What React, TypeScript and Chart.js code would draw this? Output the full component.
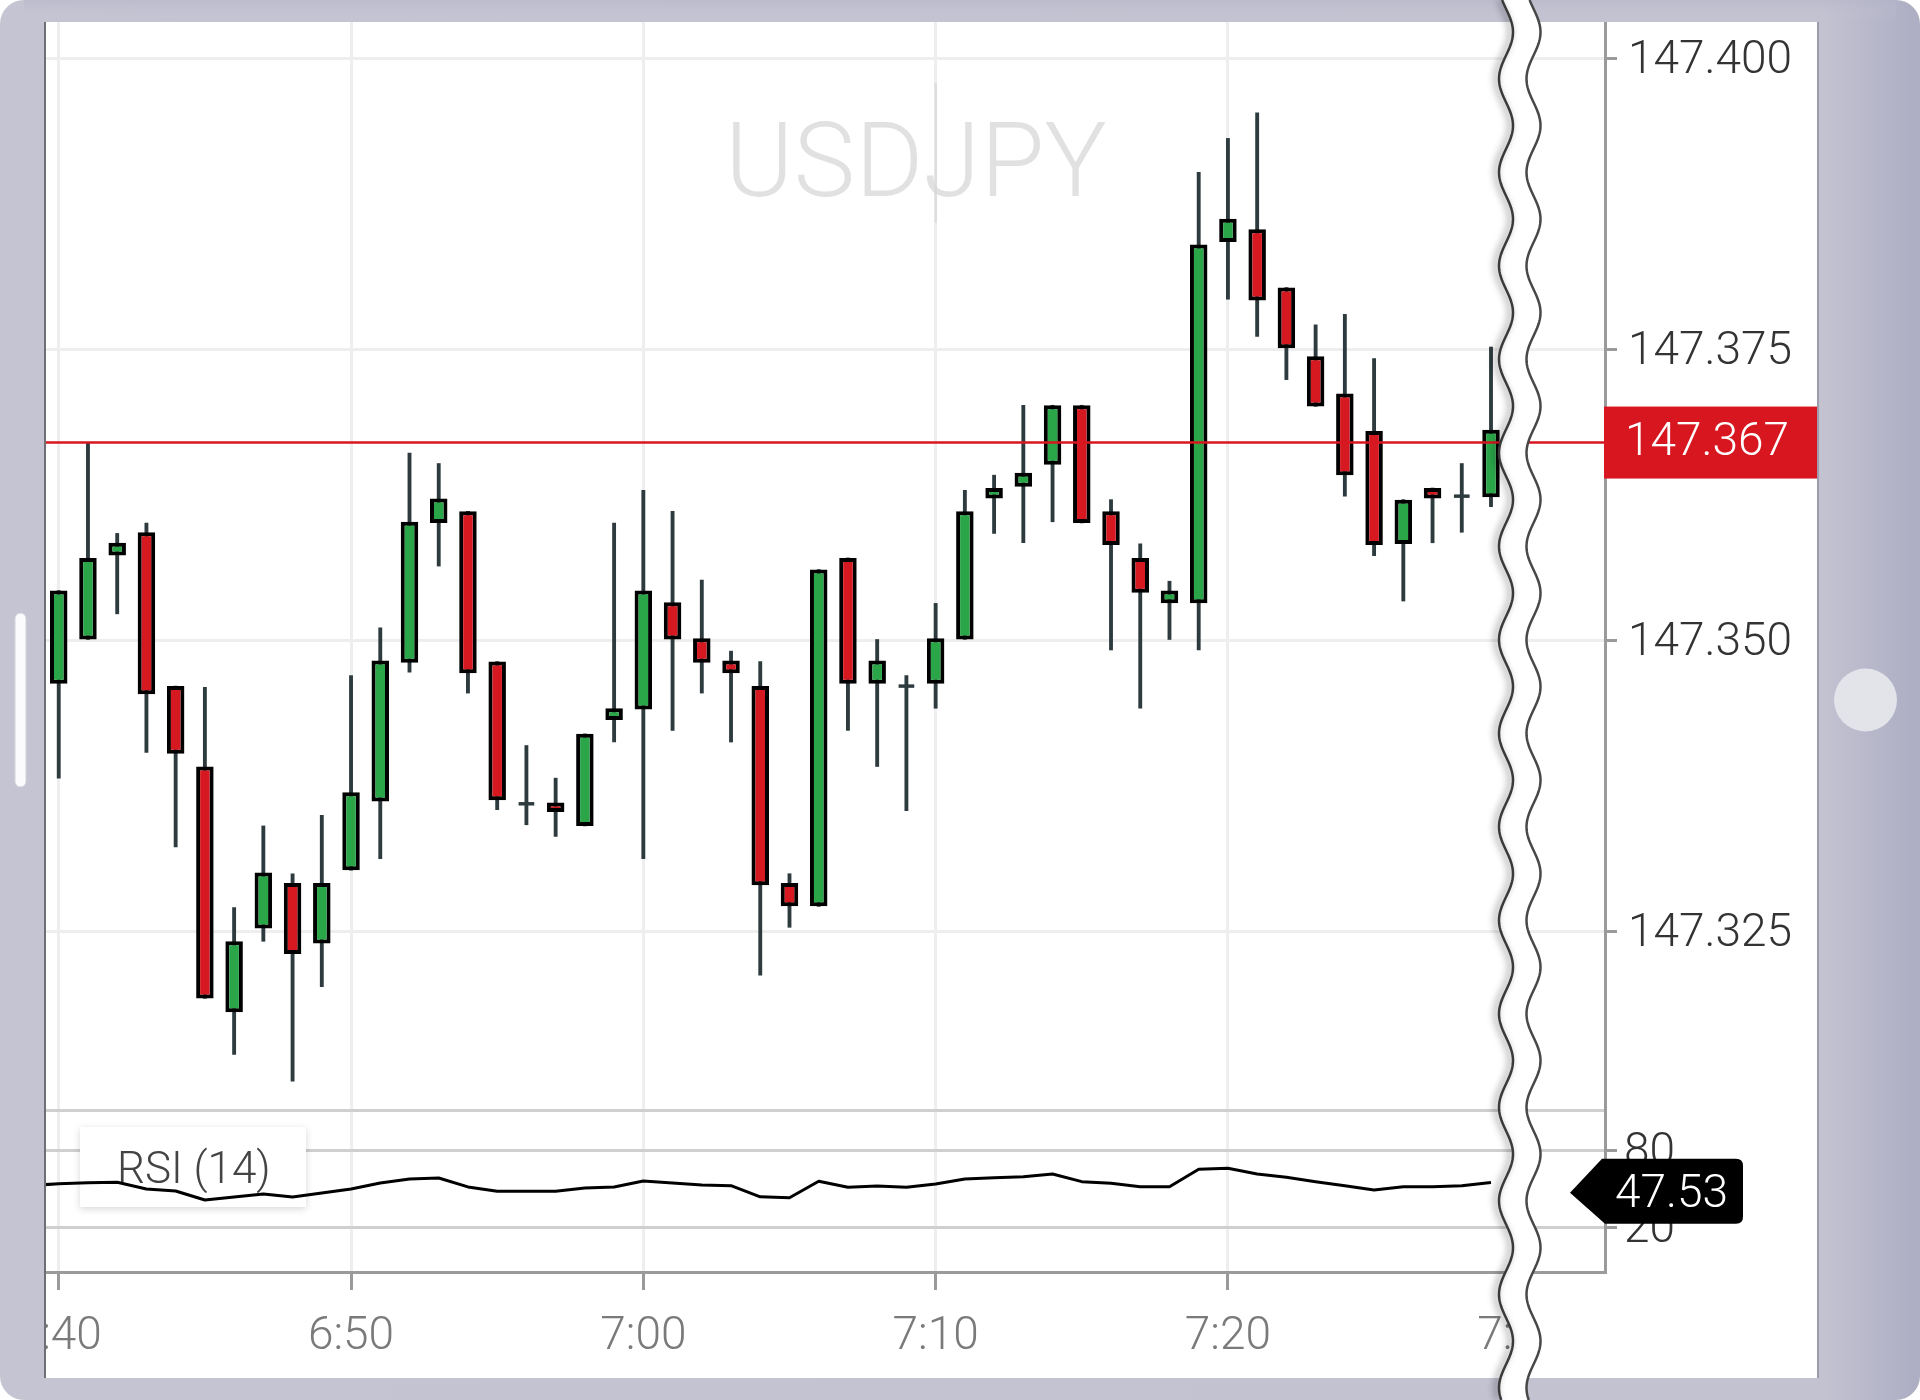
import React, { useEffect, useRef } from 'react';
import { Chart, registerables } from 'chart.js';

Chart.register(...registerables);

// ---------------- DATA ----------------
const SYMBOL = 'USDJPY';
const RSI_LABEL = 'RSI (14)';

const CANDLE_TIMES = [
  '6:40', '6:41', '6:42', '6:43', '6:44', '6:45', '6:46', '6:47', '6:48', '6:49',
  '6:50', '6:51', '6:52', '6:53', '6:54', '6:55', '6:56', '6:57', '6:58', '6:59',
  '7:00', '7:01', '7:02', '7:03', '7:04', '7:05', '7:06', '7:07', '7:08', '7:09',
  '7:10', '7:11', '7:12', '7:13', '7:14', '7:15', '7:16', '7:17', '7:18', '7:19',
  '7:20', '7:21', '7:22', '7:23', '7:24', '7:25', '7:26', '7:27', '7:28', '7:29',
];

const OPEN = [
  147.3463, 147.3501, 147.3573, 147.3593, 147.3461, 147.3392, 147.3181, 147.3253, 147.3292, 147.3240,
  147.3303, 147.3362, 147.3481, 147.3601, 147.3611, 147.3482, 147.3360, 147.3361, 147.3341, 147.3432,
  147.3441, 147.3533, 147.3502, 147.3483, 147.3461, 147.3292, 147.3272, 147.3571, 147.3463, 147.3461,
  147.3463, 147.3501, 147.3622, 147.3632, 147.3651, 147.3702, 147.3611, 147.3571, 147.3532, 147.3532,
  147.3842, 147.3853, 147.3803, 147.3744, 147.3712, 147.3680, 147.3583, 147.3631, 147.3624, 147.3623,
];

const HIGH = [
  147.3543, 147.3670, 147.3592, 147.3601, 147.3461, 147.3460, 147.3271, 147.3341, 147.3300, 147.3350,
  147.3470, 147.3511, 147.3661, 147.3652, 147.3611, 147.3482, 147.3410, 147.3382, 147.3420, 147.3601,
  147.3629, 147.3611, 147.3552, 147.3491, 147.3482, 147.3300, 147.3561, 147.3571, 147.3501, 147.3470,
  147.3532, 147.3629, 147.3642, 147.3702, 147.3702, 147.3702, 147.3621, 147.3583, 147.3551, 147.3902,
  147.3931, 147.3953, 147.3803, 147.3771, 147.3780, 147.3742, 147.3621, 147.3631, 147.3652, 147.3752,
];

const LOW = [
  147.3382, 147.3501, 147.3523, 147.3404, 147.3323, 147.3193, 147.3145, 147.3242, 147.3122, 147.3203,
  147.3303, 147.3313, 147.3473, 147.3564, 147.3455, 147.3355, 147.3342, 147.3332, 147.3341, 147.3413,
  147.3313, 147.3423, 147.3455, 147.3413, 147.3213, 147.3254, 147.3272, 147.3423, 147.3392, 147.3354,
  147.3442, 147.3501, 147.3592, 147.3584, 147.3602, 147.3601, 147.3492, 147.3442, 147.3501, 147.3492,
  147.3793, 147.3761, 147.3724, 147.3701, 147.3624, 147.3573, 147.3534, 147.3584, 147.3593, 147.3615,
];

const CLOSE = [
  147.3543, 147.3571, 147.3584, 147.3454, 147.3403, 147.3193, 147.3242, 147.3301, 147.3231, 147.3292,
  147.3370, 147.3483, 147.3602, 147.3622, 147.3472, 147.3363, 147.3360, 147.3353, 147.3420, 147.3442,
  147.3543, 147.3501, 147.3481, 147.3472, 147.3290, 147.3272, 147.3561, 147.3463, 147.3483, 147.3461,
  147.3502, 147.3611, 147.3631, 147.3644, 147.3702, 147.3601, 147.3582, 147.3541, 147.3543, 147.3840,
  147.3862, 147.3792, 147.3751, 147.3701, 147.3642, 147.3582, 147.3621, 147.3622, 147.3624, 147.3681,
];

const RSI_TIMES = ['6:39', ...CANDLE_TIMES];
const RSI = [
  53.0,
  54.5, 55.3, 55.6, 50.4, 48.8, 41.8, 44.2, 46.5, 44.2, 47.3,
  50.4, 55.1, 58.2, 59.0, 52.0, 48.6, 48.6, 48.6, 51.2, 52.0,
  56.6, 55.1, 53.5, 53.0, 44.3, 43.6, 56.4, 51.7, 52.7, 51.7,
  54.3, 58.2, 59.2, 60.0, 62.1, 56.1, 54.8, 52.2, 52.2, 65.8,
  66.5, 62.1, 59.5, 56.1, 53.0, 49.6, 52.2, 52.2, 53.0, 55.5,
];

const CURRENT_PRICE = 147.367;
const LAST_RSI = 47.53;

const PRICE_TICKS = [147.325, 147.35, 147.375, 147.4];
const RSI_TICKS = [20, 80];
const TIME_TICKS = ['6:40', '6:50', '7:00', '7:10', '7:20', '7:30'];

// ---------------- STYLE / LAYOUT ----------------
const FONT = 'Roboto, "Noto Sans", sans-serif';
const GREEN = '#2aa649';
const RED = '#d61821';
const WICK = '#2d3a3e';

const X_MIN = 399.53;
const X_MAX = 452.9;
const Y_MIN = 147.29582;
const Y_MAX = 147.40309;
const YR_MIN = -14.29;
const YR_MAX = 959.74;
const RSI_PANEL_TOP = 111.17;

const toMin = (s: string) => {
  const [h, m] = s.split(':').map(Number);
  return h * 60 + m;
};
const fmtMin = (v: number) => {
  const h = Math.floor(v / 60);
  const m = Math.round(v - h * 60);
  return `${h}:${String(m).padStart(2, '0')}`;
};

const wave = (y: number, cx: number) => cx + 7 * Math.sin((2 * Math.PI * (y - 8.75)) / 93.5);

const overlayPlugin: any = {
  id: 'overlay',
  beforeDraw(chart: any) {
    const c = chart.ctx;
    c.save();
    c.fillStyle = '#ffffff';
    c.fillRect(0, 0, chart.width, chart.height);
    c.restore();
  },
  beforeDatasetsDraw(chart: any) {
    const c = chart.ctx;
    c.save();
    // darker segment of the 7:10 grid line behind the watermark
    c.fillStyle = '#dedede';
    c.fillRect(934.5, 83, 2.5, 140);
    // watermark
    c.font = `300 104px ${FONT}`;
    c.fillStyle = 'rgba(215,215,215,0.75)';
    c.textAlign = 'center';
    c.textBaseline = 'alphabetic';
    c.fillText(SYMBOL, 916, 196);
    // RSI label box
    c.shadowColor = 'rgba(0,0,0,0.16)';
    c.shadowBlur = 7;
    c.shadowOffsetY = 2;
    c.fillStyle = '#ffffff';
    c.fillRect(80, 1127, 226, 80);
    c.shadowColor = 'rgba(0,0,0,0)';
    c.font = `300 44px ${FONT}`;
    c.fillStyle = '#444444';
    c.textAlign = 'left';
    c.fillText(RSI_LABEL, 117, 1183);
    c.restore();
  },
  afterDraw(chart: any) {
    const c = chart.ctx;
    const yS = chart.scales.y;
    const rS = chart.scales.yR;
    c.save();

    // current price label
    const py = yS.getPixelForValue(CURRENT_PRICE);
    c.fillStyle = '#d8161f';
    c.fillRect(1604, py - 36, 214, 72);
    c.fillStyle = '#ffffff';
    c.font = `300 46px ${FONT}`;
    c.textAlign = 'left';
    c.textBaseline = 'middle';
    c.fillText(CURRENT_PRICE.toFixed(3), 1625, py + 1);

    // RSI badge
    const ry = rS.getPixelForValue(LAST_RSI);
    c.beginPath();
    c.moveTo(1570, ry);
    c.lineTo(1602, ry - 34);
    c.lineTo(1736, ry - 34);
    c.quadraticCurveTo(1743, ry - 34, 1743, ry - 27);
    c.lineTo(1743, ry + 24);
    c.quadraticCurveTo(1743, ry + 31, 1736, ry + 31);
    c.lineTo(1605, ry + 31);
    c.closePath();
    c.fillStyle = '#000000';
    c.fill();
    c.fillStyle = '#ffffff';
    c.fillText(LAST_RSI.toFixed(2), 1615, ry + 3);

    // hide the part of the last time label right of the break
    c.fillStyle = '#ffffff';
    c.fillRect(1520, 1274, 84, 104);

    // device frame
    c.beginPath();
    c.roundRect(0, 0, 1920, 1400, 24);
    c.rect(45, 22, 1773, 1356);
    const g = c.createLinearGradient(0, 0, 1920, 0);
    g.addColorStop(0, '#c4c4d3');
    g.addColorStop(0.95, '#c2c2d1');
    g.addColorStop(1, '#adadc3');
    c.fillStyle = g;
    c.fill('evenodd');
    const gt = c.createLinearGradient(0, 0, 0, 22);
    gt.addColorStop(0, 'rgba(180,180,200,0.5)');
    gt.addColorStop(1, 'rgba(200,200,214,0)');
    c.fillStyle = gt;
    c.fillRect(24, 0, 1872, 22);
    c.fillStyle = '#6e6e74';
    c.fillRect(44, 22, 2, 1356);
    c.fillStyle = '#9c9caa';
    c.fillRect(1817, 22, 2, 1356);

    // scroll pill (left) and button (right)
    c.beginPath();
    c.roundRect(15, 613, 11, 174, 5.5);
    c.fillStyle = '#fbfbfd';
    c.fill();
    c.strokeStyle = '#d2d2dc';
    c.lineWidth = 1;
    c.stroke();
    c.beginPath();
    c.arc(1865.5, 700, 31.5, 0, Math.PI * 2);
    c.fillStyle = '#e3e3ea';
    c.fill();

    // wavy break
    const L = 1506;
    const R = 1533.5;
    c.beginPath();
    for (let y = 0; y <= 1400; y += 2) {
      const x = wave(y, L);
      if (y === 0) c.moveTo(x, y); else c.lineTo(x, y);
    }
    for (let y = 1400; y >= 0; y -= 2) c.lineTo(wave(y, R), y);
    c.closePath();
    c.fillStyle = '#ffffff';
    c.fill();

    c.beginPath();
    for (let y = 0; y <= 1400; y += 2) {
      const x = wave(y, L);
      if (y === 0) c.moveTo(x, y); else c.lineTo(x, y);
    }
    c.strokeStyle = '#3a3a3a';
    c.lineWidth = 2.5;
    c.shadowColor = 'rgba(0,0,0,0.55)';
    c.shadowBlur = 7;
    c.shadowOffsetX = -3;
    c.stroke();
    c.shadowColor = 'rgba(0,0,0,0)';
    c.shadowBlur = 0;
    c.shadowOffsetX = 0;

    c.beginPath();
    for (let y = 0; y <= 1400; y += 2) {
      const x = wave(y, R);
      if (y === 0) c.moveTo(x, y); else c.lineTo(x, y);
    }
    c.strokeStyle = '#484848';
    c.lineWidth = 2.5;
    c.stroke();

    c.restore();
  },
};

export default function App() {
  const ref = useRef<HTMLCanvasElement>(null);

  useEffect(() => {
    const canvas = ref.current as HTMLCanvasElement;
    const xs = CANDLE_TIMES.map(toMin);
    const bodies = xs.map((x, i) => ({ x, y: [OPEN[i], CLOSE[i]] }));
    const wicks = xs.map((x, i) => ({ x, y: [LOW[i], HIGH[i]] }));
    const dojis = xs
      .map((x, i) => ({ x, o: OPEN[i], c: CLOSE[i] }))
      .filter((d) => Math.abs(d.o - d.c) < 0.00005)
      .map((d) => ({ x: d.x, y: [d.c - 0.00012, d.c + 0.00012] }));
    const colors = xs.map((_, i) => (CLOSE[i] >= OPEN[i] ? GREEN : RED));
    const rsiData = RSI_TIMES.map((t, i) => ({ x: toMin(t), y: RSI[i] }));

    const tickFont = { family: FONT, size: 46, weight: '300' as any };

    const chart = new Chart(canvas, {
      type: 'bar',
      data: {
        datasets: [
          {
            type: 'line',
            data: [
              { x: X_MIN, y: CURRENT_PRICE },
              { x: X_MAX, y: CURRENT_PRICE },
            ],
            yAxisID: 'y',
            borderColor: '#d8161f',
            borderWidth: 2.5,
            pointRadius: 0,
            order: 0,
          } as any,
          {
            type: 'line',
            data: rsiData,
            yAxisID: 'yR',
            borderColor: '#000000',
            borderWidth: 3,
            pointRadius: 0,
            tension: 0,
            borderJoinStyle: 'round',
            order: 1,
          } as any,
          {
            type: 'bar',
            data: bodies,
            yAxisID: 'y',
            backgroundColor: colors,
            borderColor: '#000000',
            borderWidth: 4,
            borderSkipped: false,
            inflateAmount: 0,
            barThickness: 17.5,
            grouped: false,
            order: 2,
          } as any,
          {
            type: 'bar',
            data: dojis,
            yAxisID: 'y',
            backgroundColor: WICK,
            borderWidth: 0,
            barThickness: 15,
            grouped: false,
            order: 3,
          } as any,
          {
            type: 'bar',
            data: wicks,
            yAxisID: 'y',
            backgroundColor: WICK,
            borderWidth: 0,
            barThickness: 3.2,
            grouped: false,
            order: 4,
          } as any,
        ],
      },
      options: {
        responsive: false,
        animation: false,
        events: [],
        devicePixelRatio: 1,
        layout: { padding: { left: 45, top: 22, right: 102, bottom: 22 } },
        plugins: { legend: { display: false }, tooltip: { enabled: false } },
        scales: {
          x: {
            type: 'linear',
            min: X_MIN,
            max: X_MAX,
            bounds: 'data',
            offset: false,
            grid: { offset: false, color: '#eeeeee', lineWidth: 3, tickColor: '#9a9a9a', tickLength: 18, drawTicks: true },
            border: { display: true, color: '#9a9a9a', width: 3 },
            ticks: {
              autoSkip: false,
              maxRotation: 0,
              minRotation: 0,
              padding: 20,
              color: '#7a7a7a',
              font: tickFont,
              callback: (v: any) => fmtMin(Number(v)),
            },
            afterBuildTicks: (s: any) => {
              s.ticks = TIME_TICKS.map((t) => ({ value: toMin(t) }));
            },
            afterFit: (s: any) => {
              s.height = 106;
              s.paddingLeft = 0;
              s.paddingRight = 0;
            },
          } as any,
          y: {
            type: 'linear',
            position: 'right',
            weight: 1,
            min: Y_MIN,
            max: Y_MAX,
            bounds: 'data',
            beginAtZero: false,
            grid: { color: '#eeeeee', lineWidth: 3, tickColor: '#9a9a9a', tickLength: 12 },
            border: { display: true, color: '#9a9a9a', width: 3 },
            ticks: {
              padding: 11,
              labelOffset: 3,
              color: '#333333',
              font: tickFont,
              callback: (v: any) => Number(v).toFixed(3),
            },
            afterBuildTicks: (s: any) => {
              s.ticks = PRICE_TICKS.map((v) => ({ value: v }));
            },
            afterFit: (s: any) => {
              s.width = 213;
              s.paddingTop = 0;
              s.paddingBottom = 0;
            },
          } as any,
          yR: {
            type: 'linear',
            position: 'right',
            weight: 0,
            min: YR_MIN,
            max: YR_MAX,
            bounds: 'data',
            beginAtZero: false,
            grid: {
              color: '#cfcfcf',
              lineWidth: 3,
              tickLength: 12,
              tickColor: (ctx: any) => (ctx.tick && ctx.tick.value > 100 ? 'rgba(0,0,0,0)' : '#9a9a9a'),
            },
            border: { display: false },
            ticks: {
              mirror: true,
              crossAlign: 'near',
              padding: 70,
              labelOffset: 3,
              autoSkip: false,
              color: '#333333',
              font: tickFont,
              callback: (v: any) => (RSI_TICKS.includes(Number(v)) ? String(v) : ''),
            },
            afterBuildTicks: (s: any) => {
              s.ticks = [...RSI_TICKS, RSI_PANEL_TOP].map((v) => ({ value: v }));
            },
            afterFit: (s: any) => {
              s.width = 0;
              s.paddingTop = 0;
              s.paddingBottom = 0;
            },
          } as any,
        },
      } as any,
      plugins: [overlayPlugin],
    });

    return () => chart.destroy();
  }, []);

  return (
    <div style={{ position: 'absolute', left: 0, top: 0, width: 1920, height: 1400, overflow: 'hidden' }}>
      <canvas ref={ref} width={1920} height={1400} style={{ display: 'block', width: 1920, height: 1400 }} />
    </div>
  );
}
